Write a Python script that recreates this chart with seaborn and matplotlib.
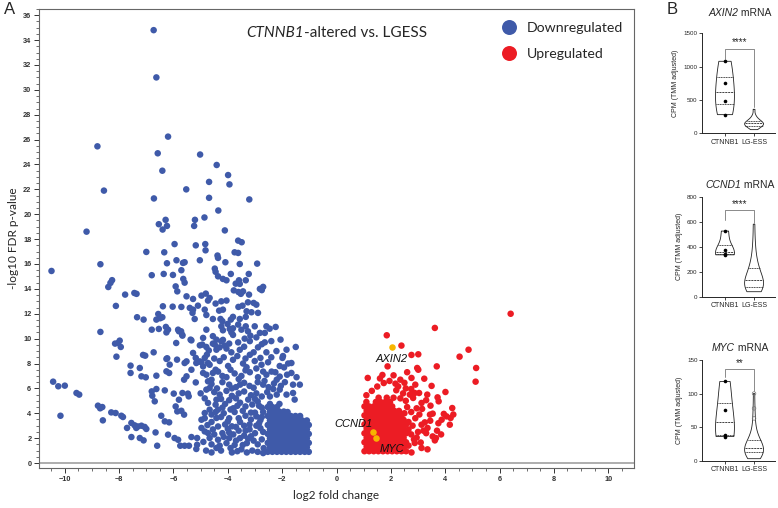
"""
Volcano plot (CTNNB1-altered vs LGESS) with violin panels for AXIN2, CCND1, MYC.
"""
import numpy as np
import pandas as pd
import matplotlib
matplotlib.use("Agg")
import matplotlib.pyplot as plt
from matplotlib.ticker import MultipleLocator
import seaborn as sns

sns.set_style("ticks")
plt.rcParams["font.family"] = ["Liberation Sans", "DejaVu Sans"]

BLUE = "#3f5aa9"
RED = "#ec1c24"
GOLD = "#f7b500"

# ── volcano data (log2FC, -log10 FDR) ────────────────────────────────────────
down_pts = [
    (-6.73, 34.8), (-6.63, 31.0), (-6.2, 26.24), (-8.8, 25.46), (-6.58, 24.9), (-5.02, 24.8),
    (-4.41, 23.96), (-6.41, 23.5), (-3.99, 23.15), (-4.69, 22.6), (-3.94, 22.4), (-8.56, 21.9),
    (-5.53, 22.0), (-6.72, 21.27), (-4.69, 21.32), (-3.21, 21.19), (-4.35, 20.3), (-9.2, 18.6),
    (-6.54, 19.2), (-6.29, 19.55), (-6.4, 18.77), (-6.24, 19.06), (-5.21, 19.55), (-5.24, 19.06),
    (-4.86, 19.74), (-4.11, 18.7), (-3.62, 17.88), (-3.49, 17.75), (-5.96, 17.6), (-5.18, 17.5),
    (-4.83, 17.6), (-4.82, 17.1),
    (-10.49, 15.44), (-8.69, 15.98), (-7.0, 16.97), (-6.8, 15.1), (-6.34, 16.94), (-6.24, 16.06),
    (-6.36, 15.2), (-5.89, 16.3), (-5.59, 16.14), (-5.65, 16.09), (-6.02, 15.12), (-5.71, 15.5),
    (-5.03, 16.3), (-4.38, 16.68), (-4.36, 16.49), (-3.75, 16.94), (-3.62, 16.89), (-4.09, 16.14),
    (-3.56, 16.0), (-2.92, 16.03), (-4.48, 15.63), (-4.45, 15.37), (-3.89, 15.2), (-3.23, 15.2),
    (-8.4, 14.15), (-8.32, 14.48), (-8.26, 14.7), (-5.64, 14.8), (-5.59, 14.5), (-5.92, 14.2),
    (-5.86, 13.8), (-4.36, 15.01), (-4.18, 14.8), (-4.05, 14.69), (-3.71, 14.42), (-3.78, 13.88),
    (-3.61, 13.75), (-3.52, 13.6), (-3.44, 13.8), (-3.59, 14.69), (-3.34, 14.69), (-2.82, 14.0),
    (-2.7, 14.16), (-2.75, 13.9), (-7.78, 13.54), (-7.44, 13.67), (-7.36, 13.6), (-5.52, 13.4),
    (-5.28, 13.19), (-4.97, 13.46), (-4.81, 13.62), (-4.67, 13.27), (-4.73, 13.06), (-3.56, 14.4),
    (-8.12, 12.63), (-7.34, 11.72), (-7.1, 11.53), (-6.56, 11.98), (-6.41, 11.72), (-6.49, 11.64),
    (-6.03, 12.57), (-6.39, 12.6), (-5.71, 12.55), (-5.1, 12.65), (-5.28, 12.33), (-5.4, 12.47),
    (-5.3, 12.07), (-5.22, 11.58), (-4.85, 12.33), (-4.79, 11.9), (-4.45, 12.82), (-4.24, 13.0),
    (-4.05, 13.06), (-4.32, 12.25), (-4.18, 12.33), (-4.55, 11.58), (-4.27, 11.58), (-4.2, 11.4),
    (-3.61, 12.55), (-3.46, 12.65), (-3.26, 12.92), (-3.05, 12.87), (-2.95, 12.73), (-3.31, 12.2),
    (-3.13, 12.12), (-2.89, 12.07), (-3.89, 11.53), (-3.81, 11.75), (-3.56, 11.58), (-3.34, 11.75),
    (-6.63, 11.53), (-3.22, 13.54),
    (-8.69, 10.54), (-6.8, 10.72), (-6.54, 10.78), (-6.28, 10.94), (-6.2, 10.72), (-5.72, 10.59),
    (-5.68, 10.32), (-5.83, 10.72), (-5.67, 10.24), (-4.79, 10.72), (-4.24, 10.99), (-4.18, 10.67),
    (-4.01, 11.18), (-3.93, 10.78), (-3.87, 10.51), (-3.81, 10.83), (-3.62, 11.13), (-3.5, 10.72),
    (-3.34, 10.99), (-3.26, 10.59), (-3.17, 10.24), (-3.01, 10.99), (-2.82, 10.46), (-2.64, 10.46),
    (-2.58, 10.99), (-2.24, 10.94), (-2.46, 10.8), (-2.06, 9.92), (-5.37, 9.92), (-4.91, 10.06),
    (-5.8, 10.59), (-6.26, 10.5),
    (-8.15, 9.6), (-8.04, 9.65), (-7.98, 9.84), (-7.94, 9.33), (-8.1, 8.55), (-7.12, 8.69),
    (-7.04, 8.63), (-6.73, 8.9), (-6.23, 8.42), (-5.9, 9.65), (-5.34, 9.86), (-5.03, 9.46),
    (-4.79, 9.33), (-4.55, 9.6), (-4.42, 9.92), (-4.24, 9.78), (-4.11, 9.44), (-4.94, 9.52),
    (-5.28, 8.85), (-5.18, 8.45), (-4.77, 8.71), (-4.85, 8.45), (-4.48, 9.52), (-4.42, 9.11),
    (-1.84, 9.11), (-1.5, 9.33), (-5.87, 8.31),
    (-4.55, 10.2), (-4.18, 9.9), (-3.81, 10.3), (-3.62, 9.7), (-3.38, 10.0), (-3.19, 9.8),
    (-2.95, 10.1), (-2.64, 9.7), (-4.05, 9.2), (-3.87, 8.9), (-3.56, 9.1), (-3.19, 8.7),
    (-2.89, 9.3), (-2.58, 8.9), (-2.21, 9.0), (-1.97, 8.6),
    (-4.97, 8.1), (-4.67, 7.9), (-4.3, 8.2), (-3.99, 7.8), (-3.81, 8.3), (-3.44, 8.0),
    (-3.31, 7.7), (-3.01, 8.2), (-2.76, 7.9), (-2.52, 8.1), (-2.09, 7.8), (-1.78, 8.0),
    (-1.99, 8.45), (-1.66, 8.04), (-1.93, 7.69), (-7.58, 7.83), (-7.24, 7.64), (-6.26, 8.37),
    (-6.14, 7.91), (-5.59, 8.04), (-5.52, 8.17), (-5.16, 8.04), (-5.03, 8.17), (-4.73, 8.04),
    (-4.91, 7.77),
    (-7.58, 7.24), (-7.18, 6.97), (-7.02, 6.89), (-6.63, 7.02), (-6.26, 7.37), (-6.16, 7.24),
    (-5.52, 6.97), (-5.34, 7.5), (-4.91, 7.24), (-4.79, 7.1), (-4.55, 7.24), (-4.45, 7.5),
    (-4.36, 7.35), (-4.05, 6.9), (-3.75, 7.2), (-3.5, 7.0), (-3.19, 7.3), (-2.89, 6.9),
    (-2.58, 7.1), (-2.39, 7.35), (-2.09, 6.95), (-1.82, 7.1), (-1.47, 6.9), (-1.66, 7.24),
    (-5.61, 6.7), (-5.18, 6.48), (-4.73, 6.57), (-4.6, 6.7), (-4.67, 6.03), (-4.79, 5.9),
    (-4.2, 6.5), (-3.95, 6.3), (-3.7, 6.1), (-3.4, 6.45), (-3.2, 6.2), (-2.9, 6.5),
    (-2.7, 6.3), (-2.5, 6.1), (-2.3, 6.4), (-2.05, 6.2), (-1.9, 6.5), (-1.6, 6.3), (-1.35, 6.3),
    (-6.8, 5.76), (-6.63, 5.95), (-6.78, 5.41), (-6.32, 5.84), (-5.99, 5.58), (-5.67, 5.63),
    (-5.47, 5.58), (-5.44, 5.36), (-9.57, 5.63), (-9.47, 5.5),
    (-5.0, 5.6), (-4.5, 5.7), (-4.3, 5.5), (-4.05, 5.8), (-3.85, 5.4), (-3.6, 5.6),
    (-3.4, 5.75), (-3.15, 5.45), (-2.95, 5.6), (-2.75, 5.35), (-2.55, 5.7), (-2.33, 5.95),
    (-2.09, 5.9), (-1.84, 5.5), (-1.6, 5.63), (-2.2, 5.5),
    (-6.69, 4.96), (-5.8, 5.09), (-5.92, 4.55), (-4.73, 4.83), (-4.42, 5.09), (-4.45, 4.69),
    (-4.36, 4.29), (-4.1, 4.75), (-3.8, 4.4), (-3.55, 4.85), (-3.35, 4.55), (-3.1, 4.7),
    (-2.9, 4.95), (-2.75, 4.45), (-1.54, 5.1), (-3.95, 5.05), (-3.25, 5.1),
    (-10.43, 6.54), (-10.24, 6.17), (-10.0, 6.22), (-10.16, 3.8),
    (-8.78, 4.61), (-8.7, 4.4), (-8.62, 4.5), (-8.6, 3.43), (-8.29, 4.07), (-8.13, 4.02),
    (-7.92, 3.8), (-7.86, 3.7), (-5.86, 4.15), (-5.71, 4.2), (-5.61, 3.89), (-6.45, 3.8),
    (-6.32, 3.35), (-6.16, 3.27), (-4.97, 3.48), (-4.85, 4.02), (-4.67, 4.29), (-4.42, 3.62),
    (-4.36, 2.94), (-4.15, 4.0), (-3.95, 3.6), (-3.75, 4.1), (-3.55, 3.3), (-3.35, 3.8),
    (-3.15, 3.5), (-3.0, 4.05), (-2.85, 3.2), (-2.75, 3.7), (-4.1, 3.1), (-3.85, 2.95),
    (-3.4, 3.0), (-4.6, 3.3),
    (-7.71, 2.82), (-7.55, 3.22), (-7.43, 3.03), (-7.31, 2.94), (-7.18, 3.0), (-7.06, 2.9),
    (-7.0, 2.74), (-7.37, 2.82), (-7.55, 2.09), (-7.24, 2.01), (-7.1, 1.82), (-6.66, 2.46),
    (-6.6, 1.39), (-6.2, 2.28), (-5.96, 2.01), (-5.83, 1.87), (-5.75, 1.39), (-5.59, 1.39),
    (-5.43, 1.39), (-5.34, 2.09), (-5.13, 2.01), (-5.13, 1.47), (-5.16, 1.13), (-4.97, 2.82),
    (-4.85, 2.54), (-4.73, 2.41), (-4.67, 2.01), (-4.36, 1.87), (-4.42, 1.21),
    (-4.55, 2.7), (-4.2, 2.4), (-4.0, 2.75), (-3.8, 2.3), (-3.6, 2.6), (-3.4, 2.2),
    (-3.2, 2.7), (-3.0, 2.4), (-2.8, 2.8), (-4.6, 1.5), (-4.25, 1.0), (-4.05, 1.6),
    (-3.9, 1.2), (-3.7, 1.8), (-3.5, 1.1), (-3.3, 1.6), (-3.1, 1.0), (-2.9, 1.5),
    (-2.75, 1.9), (-4.8, 1.0), (-3.95, 2.0), (-3.25, 1.95), (-2.9, 0.9), (-3.65, 0.95),
    (-4.9, 1.7),
    # denser middle of the cloud
    (-4.3, 1.4), (-4.15, 2.1), (-3.95, 2.45), (-3.75, 1.45), (-3.55, 2.0), (-3.45, 1.45),
    (-3.35, 2.6), (-3.15, 2.15), (-3.05, 1.8), (-2.95, 3.0), (-2.7, 2.5), (-2.68, 1.2),
    (-2.8, 3.45), (-2.7, 4.1), (-2.95, 3.75), (-3.2, 3.1), (-3.6, 3.6), (-3.7, 2.9),
    (-4.0, 3.35), (-4.25, 3.7), (-4.45, 4.1), (-4.2, 4.45), (-3.9, 4.3), (-3.65, 4.6),
    (-3.45, 4.2), (-3.15, 4.05), (-2.85, 4.6), (-4.5, 2.3), (-4.75, 3.05), (-4.6, 3.9),
    (-4.85, 3.6), (-3.85, 0.85), (-3.3, 0.85), (-2.7, 0.8), (-4.6, 0.85),
    (-4.85, 5.2), (-4.25, 5.15), (-3.7, 5.2), (-3.0, 5.15), (-2.45, 5.35), (-4.6, 6.35),
    (-4.4, 6.0), (-3.85, 6.0), (-3.55, 6.3), (-3.05, 6.05), (-2.65, 6.6), (-2.2, 6.7),
    (-4.2, 7.0), (-3.9, 7.5), (-3.6, 6.75), (-3.35, 7.45), (-2.95, 7.6), (-2.7, 7.35),
    (-2.25, 7.3), (-4.5, 8.4), (-4.15, 8.5), (-3.65, 8.6), (-3.35, 8.4), (-3.05, 8.9),
    (-2.8, 8.45), (-2.4, 8.5), (-4.7, 9.05), (-4.3, 9.3), (-3.95, 9.6), (-3.4, 9.35),
    (-2.75, 9.55), (-2.4, 9.8),
]

# solid mass of downregulated genes near the fold-change cut-off
down_core = [
    (-2.53, 0.9), (-2.36, 0.9), (-2.19, 0.9), (-2.02, 0.9), (-1.85, 0.9), (-1.68, 0.9), (-1.51, 0.9), (-1.34, 0.9), (-1.17, 0.9), (-1.02, 0.9),
    (-2.45, 1.26), (-2.28, 1.26), (-2.11, 1.26), (-1.94, 1.26), (-1.77, 1.26), (-1.6, 1.26), (-1.43, 1.26), (-1.26, 1.26), (-1.09, 1.26),
    (-2.53, 1.62), (-2.36, 1.62), (-2.19, 1.62), (-2.02, 1.62), (-1.85, 1.62), (-1.68, 1.62), (-1.51, 1.62), (-1.34, 1.62), (-1.17, 1.62), (-1.02, 1.62),
    (-2.45, 1.98), (-2.28, 1.98), (-2.11, 1.98), (-1.94, 1.98), (-1.77, 1.98), (-1.6, 1.98), (-1.43, 1.98), (-1.26, 1.98), (-1.09, 1.98),
    (-2.53, 2.34), (-2.36, 2.34), (-2.19, 2.34), (-2.02, 2.34), (-1.85, 2.34), (-1.68, 2.34), (-1.51, 2.34), (-1.34, 2.34), (-1.17, 2.34), (-1.02, 2.34),
    (-2.45, 2.7), (-2.28, 2.7), (-2.11, 2.7), (-1.94, 2.7), (-1.77, 2.7), (-1.6, 2.7), (-1.43, 2.7), (-1.26, 2.7), (-1.09, 2.7),
    (-2.53, 3.06), (-2.36, 3.06), (-2.19, 3.06), (-2.02, 3.06), (-1.85, 3.06), (-1.68, 3.06), (-1.51, 3.06), (-1.34, 3.06), (-1.17, 3.06), (-1.02, 3.06),
    (-2.45, 3.42), (-2.28, 3.42), (-2.11, 3.42), (-1.94, 3.42), (-1.77, 3.42), (-1.6, 3.42), (-1.43, 3.42), (-1.26, 3.42), (-1.09, 3.42),
    (-2.53, 3.78), (-2.36, 3.78), (-2.19, 3.78), (-2.02, 3.78), (-1.85, 3.78), (-1.68, 3.78), (-1.51, 3.78), (-1.34, 3.78),
    (-2.45, 4.14), (-2.28, 4.14), (-2.11, 4.14), (-1.94, 4.14), (-1.8, 4.1),
    (-2.53, 4.5), (-2.36, 4.5), (-2.19, 4.5), (-2.45, 4.75), (-2.1, 4.75),
]

up_pts = [
    (6.41, 12.0), (3.62, 10.86), (1.85, 10.27), (2.39, 9.44), (4.86, 9.11), (4.53, 8.55),
    (2.76, 8.69), (3.01, 8.74), (1.88, 7.77), (5.14, 7.64), (3.69, 7.77), (2.97, 7.64),
    (3.01, 7.5), (1.69, 7.08), (1.15, 6.84), (2.76, 6.84), (3.23, 6.78), (5.12, 6.54),
    (1.74, 6.43), (2.17, 6.38), (2.27, 6.16), (4.01, 5.71), (2.88, 5.63), (3.04, 5.63),
    (3.34, 5.5), (3.72, 5.28), (3.76, 4.96), (2.82, 5.23), (3.13, 4.83), (3.46, 4.61),
    (4.26, 4.42), (3.54, 3.97), (3.44, 3.89), (3.87, 3.48), (4.05, 3.75), (4.2, 3.62),
    (4.17, 3.08), (3.13, 3.08), (3.25, 3.27), (3.35, 2.82), (3.54, 2.14), (3.66, 2.01),
    (3.62, 1.82), (2.76, 0.85), (3.13, 1.21), (2.45, 1.01), (2.88, 1.61),
    (2.6, 4.5), (2.75, 4.1), (2.9, 3.6), (2.55, 5.0), (2.7, 5.5), (2.8, 3.0),
    (3.0, 2.5), (2.75, 2.3), (2.85, 1.9), (3.05, 3.9), (3.15, 4.35), (3.3, 2.4),
    (3.75, 3.2), (2.65, 1.4), (2.55, 6.0), (2.35, 6.7), (2.1, 7.05), (1.5, 6.15),
    (1.3, 5.8), (1.1, 5.45), (2.2, 5.85), (1.95, 6.6), (1.6, 6.8), (2.45, 5.6),
    (2.65, 2.7), (2.95, 2.05), (3.2, 2.6), (3.45, 3.4), (3.7, 2.6), (3.95, 3.95),
    (2.95, 4.4), (3.3, 5.05), (2.75, 5.95), (2.9, 6.3), (3.5, 6.2), (2.5, 6.45),
    (2.35, 5.2), (2.5, 4.0), (2.65, 3.3), (3.1, 1.65), (3.35, 1.1), (3.85, 2.3),
    (4.3, 3.9), (2.6, 7.3),
]

# solid mass of upregulated genes
up_core = [
    (1.03, 0.95), (1.2, 0.95), (1.37, 0.95), (1.54, 0.95), (1.71, 0.95), (1.88, 0.95), (2.05, 0.95), (2.22, 0.95), (2.39, 0.95), (2.56, 0.95),
    (1.11, 1.31), (1.28, 1.31), (1.45, 1.31), (1.62, 1.31), (1.79, 1.31), (1.96, 1.31), (2.13, 1.31), (2.3, 1.31), (2.47, 1.31),
    (1.03, 1.67), (1.2, 1.67), (1.37, 1.67), (1.54, 1.67), (1.71, 1.67), (1.88, 1.67), (2.05, 1.67), (2.22, 1.67), (2.39, 1.67), (2.56, 1.67),
    (1.11, 2.03), (1.28, 2.03), (1.45, 2.03), (1.62, 2.03), (1.79, 2.03), (1.96, 2.03), (2.13, 2.03), (2.3, 2.03), (2.47, 2.03),
    (1.03, 2.39), (1.2, 2.39), (1.37, 2.39), (1.54, 2.39), (1.71, 2.39), (1.88, 2.39), (2.05, 2.39), (2.22, 2.39), (2.39, 2.39), (2.56, 2.39),
    (1.11, 2.75), (1.28, 2.75), (1.45, 2.75), (1.62, 2.75), (1.79, 2.75), (1.96, 2.75), (2.13, 2.75), (2.3, 2.75), (2.47, 2.75),
    (1.03, 3.11), (1.2, 3.11), (1.37, 3.11), (1.54, 3.11), (1.71, 3.11), (1.88, 3.11), (2.05, 3.11), (2.22, 3.11), (2.39, 3.11), (2.56, 3.11),
    (1.11, 3.47), (1.28, 3.47), (1.45, 3.47), (1.62, 3.47), (1.79, 3.47), (1.96, 3.47), (2.13, 3.47), (2.3, 3.47), (2.47, 3.47),
    (1.03, 3.83), (1.2, 3.83), (1.37, 3.83), (1.54, 3.83), (1.71, 3.83), (1.88, 3.83), (2.05, 3.83), (2.22, 3.83), (2.39, 3.83),
    (1.11, 4.19), (1.28, 4.19), (1.45, 4.19), (1.62, 4.19), (1.79, 4.19), (1.96, 4.19), (2.13, 4.19), (2.3, 4.19),
    (1.03, 4.55), (1.2, 4.55), (1.37, 4.55), (1.54, 4.55), (1.71, 4.55), (1.88, 4.55), (2.05, 4.55),
    (1.1, 4.91), (1.45, 4.91), (1.62, 4.91), (1.8, 4.91), (1.97, 4.91),
    (1.55, 5.25), (1.85, 5.25), (2.1, 5.25),
]

key_genes = ["AXIN2", "CCND1", "MYC"]
key_lfc = [2.03, 1.35, 1.47]
key_fdr = [9.33, 2.46, 2.01]
key_label_offset = [(0, -9), (-14, 6), (11, -8)]   # points

# ── violin data: CPM (TMM adjusted) ──────────────────────────────────────────
groups = ["CTNNB1", "LG-ESS"]
axin2_ct = [1080, 760, 490, 280]
axin2_lg = [55, 75, 90, 100, 110, 118, 125, 132, 138, 145, 150, 156, 163, 172, 182, 195,
            210, 235, 270, 360]
ccnd1_ct = [525, 373, 340, 335]
ccnd1_lg = [40, 48, 55, 62, 70, 76, 82, 90, 98, 106, 115, 125, 135, 148, 162, 180, 200,
            222, 240, 270, 310, 370, 450, 580]
myc_ct = [118, 76, 39, 36]
myc_lg = [3, 5, 7, 8, 10, 11, 12, 13, 14, 15, 16, 17, 18, 19, 21, 23, 25, 27, 29, 32, 36,
          42, 50, 63, 78, 100]

# ── figure ────────────────────────────────────────────────────────────────────
W, H = 778, 508
fig = plt.figure(figsize=(W / 100, H / 100), dpi=100)
renderer = fig.canvas.get_renderer()


def rect(x0, y0, x1, y1):
    return [x0 / W, 1 - y1 / H, (x1 - x0) / W, (y1 - y0) / H]


ax = fig.add_axes(rect(39, 9, 634, 468))

vol = pd.concat([
    pd.DataFrame(down_pts + down_core, columns=["lfc", "fdr"]).assign(status="Downregulated"),
    pd.DataFrame(up_pts + up_core, columns=["lfc", "fdr"]).assign(status="Upregulated"),
], ignore_index=True)

sns.scatterplot(data=vol, x="lfc", y="fdr", hue="status",
                hue_order=["Downregulated", "Upregulated"],
                palette={"Downregulated": BLUE, "Upregulated": RED},
                s=22, linewidth=0, alpha=1, ax=ax, zorder=3)
sns.scatterplot(x=key_lfc, y=key_fdr, color=GOLD, s=22, linewidth=0, ax=ax, zorder=4)
for g, x, y, off in zip(key_genes, key_lfc, key_fdr, key_label_offset):
    ax.annotate(g, (x, y), xytext=off, textcoords="offset points", ha="center",
                va="center", fontsize=8, style="italic", color="#111", zorder=5)

ax.axhline(0, color="#a0a0a0", lw=1.2, zorder=1)
ax.set_xlim(-10.95, 10.95)
ax.set_ylim(-0.4, 36.5)
ax.xaxis.set_major_locator(MultipleLocator(2))
ax.xaxis.set_minor_locator(MultipleLocator(0.5))
ax.yaxis.set_major_locator(MultipleLocator(2))
ax.yaxis.set_minor_locator(MultipleLocator(0.5))
ax.tick_params(which="major", length=3.5, width=0.7, labelsize=5.3, colors="#333",
               pad=2)
ax.tick_params(which="minor", length=2, width=0.6, colors="#555")
for lab in ax.get_xticklabels() + ax.get_yticklabels():
    lab.set_fontweight("bold")
for sp in ax.spines.values():
    sp.set_color("#666")
    sp.set_linewidth(0.8)
ax.set_xlabel("log2 fold change", fontsize=8.5, family="Lato", labelpad=5)
ax.set_ylabel("-log10 FDR p-value", fontsize=8.5, family="Lato", labelpad=3)

h, l = ax.get_legend_handles_labels()
ax.legend(h[:2], l[:2], loc="upper left", bbox_to_anchor=(0.757, 1.0), frameon=False,
          markerscale=2.3, handlelength=1.0, handletextpad=0.75, labelspacing=1.0,
          prop={"family": "Lato", "size": 10.2})

t1 = ax.text(0.349, 0.939, "CTNNB1", transform=ax.transAxes, fontsize=11,
             family="Lato", style="italic", va="baseline")
ax.annotate("-altered vs. LGESS", xy=(1, 0), xycoords=t1, va="bottom",
            fontsize=11, family="Lato")

fig.text(4 / W, 1 - 2 / H, "A", fontsize=12, va="top")
fig.text(667 / W, 1 - 2 / H, "B", fontsize=12, va="top")


def panel_title(cx, cy, gene, size=7.5):
    """Italic gene name followed by upright ' mRNA', centred on (cx, cy) pixels."""
    ta = fig.text(0, 1 - cy / H, gene, style="italic", fontsize=size, va="center")
    tb = fig.text(0, 1 - cy / H, "\u00a0mRNA", fontsize=size, va="center")
    wa = ta.get_window_extent(renderer).width
    wb = tb.get_window_extent(renderer).width
    x0 = cx - (wa + wb) / 2
    ta.set_x(x0 / W)
    tb.set_x((x0 + wa) / W)


# ── violin panels ─────────────────────────────────────────────────────────────
def violin_panel(box, title_y, gene, ct, lg, ymax, step, bracket, stars,
                 lg_points_above=None):
    axv = fig.add_axes(rect(*box))
    df = pd.DataFrame({"group": [groups[0]] * len(ct) + [groups[1]] * len(lg),
                       "cpm": ct + lg})
    sns.violinplot(data=df, x="group", y="cpm", order=groups, cut=0, inner="quart",
                   fill=False, color="#222", linewidth=0.6, width=0.65,
                   density_norm="width", ax=axv)
    sns.stripplot(data=df[df["group"] == groups[0]], x="group", y="cpm", order=groups,
                  color="black", size=2.6, jitter=False, ax=axv)
    if lg_points_above is not None:
        sub = df[(df["group"] == groups[1]) & (df["cpm"] > lg_points_above)]
        sns.stripplot(data=sub, x="group", y="cpm", order=groups, jitter=False,
                      size=2.6, color="none", edgecolor="#777", linewidth=0.5, ax=axv)
    top, left_leg, right_leg = bracket
    axv.plot([0, 0, 1, 1], [left_leg, top, top, right_leg], color="#777", lw=0.6)
    axv.text(0.5, top + ymax * 0.015, stars, ha="center", va="bottom", fontsize=7)
    axv.set_xlim(-0.8, 1.72)
    axv.set_ylim(0, ymax)
    axv.yaxis.set_major_locator(MultipleLocator(step))
    axv.set_xlabel("")
    axv.set_ylabel("CPM (TMM adjusted)", fontsize=5, labelpad=3)
    axv.tick_params(axis="y", labelsize=4.5, length=2, width=0.6, pad=1)
    axv.tick_params(axis="x", labelsize=5.0, length=2, width=0.6, pad=2)
    sns.despine(ax=axv)
    for sp in axv.spines.values():
        sp.set_linewidth(0.7)
    panel_title(740, title_y, gene)
    return axv


violin_panel((701.7, 33.3, 775, 133.3), 13, "AXIN2", axin2_ct, axin2_lg, 1500, 500,
             (1270, 1120, 400), "****")
violin_panel((701.7, 196.7, 775, 296.7), 185, "CCND1", ccnd1_ct, ccnd1_lg, 800, 200,
             (690, 610, 590), "****")
violin_panel((701.7, 360, 775, 460.7), 348, "MYC", myc_ct, myc_lg, 150, 50,
             (136, 124, 104), "**", lg_points_above=55)

fig.savefig("out.png", dpi=100)
